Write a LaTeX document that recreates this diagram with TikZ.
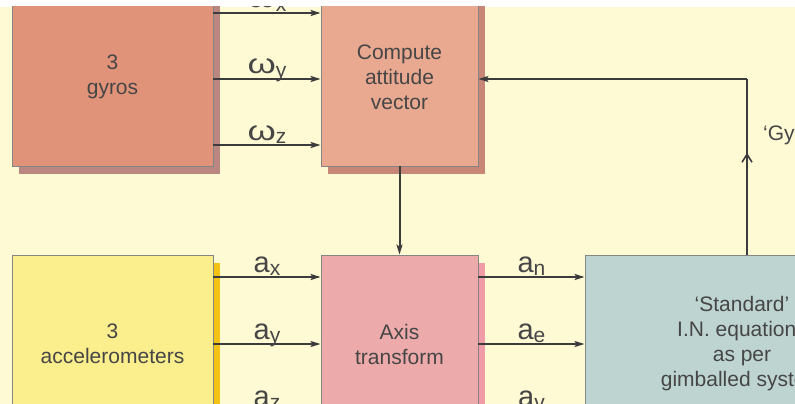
\documentclass[tikz,border=0pt]{standalone}
\usepackage{fontspec}
\setmainfont{Liberation Sans}
\usetikzlibrary{arrows.meta,positioning,shadows,calc,decorations.markings}
\definecolor{bgcream}{HTML}{FEFAD4}
\definecolor{txtgrey}{HTML}{464646}
\definecolor{lineline}{HTML}{3C3C3C}
\definecolor{boxline}{HTML}{858585}
\definecolor{gyrofill}{HTML}{E1937A}
\definecolor{gyroshade}{HTML}{B9877F}
\definecolor{compfill}{HTML}{E9A990}
\definecolor{compshade}{HTML}{C88676}
\definecolor{accfill}{HTML}{FAEE8D}
\definecolor{accshade}{HTML}{F4C215}
\definecolor{axisfill}{HTML}{EDAAAA}
\definecolor{axisshade}{HTML}{EF9CA6}
\definecolor{insfill}{HTML}{BDD4D1}
\newcommand{\sig}[2]{{\fontsize{29}{29}\selectfont #1\raisebox{-3.5pt}{\fontsize{21}{21}\selectfont #2}}}
\newcommand{\om}{\scalebox{1.25}[0.95]{ω}}

\begin{document}
\begin{tikzpicture}[
  x=1pt, y=-1pt,
  block/.style={draw=boxline, line width=0.8pt, text=txtgrey, align=center, inner sep=0pt,
    font=\fontsize{21}{25}\selectfont, minimum height=178pt},
  wide/.style={minimum width=201pt},
  narrow/.style={minimum width=157pt},
  shade/.style={drop shadow={shadow xshift=7pt, shadow yshift=-8pt, fill=#1, opacity=1}},
  flow/.style={draw=lineline, line width=2pt, -{Stealth[length=10pt,width=6pt,inset=2pt]}},
  lbl/.style={anchor=base, yshift=5pt, inner sep=0pt, text=txtgrey}
]
  \useasboundingbox (0,0) rectangle (795,404);
  \fill[white] (0,0) rectangle (795,404);
  \begin{scope}
  \clip (0,7) rectangle (795,404);
  \fill[bgcream] (0,7) rectangle (795,404);

  % Blocks
  \node[block, wide, fill=gyrofill, shade=gyroshade] (gyros) at (112.5,77) {3\\gyros};
  \node[block, narrow, fill=compfill, shade=compshade] (compute) at (399.5,77) {Compute\\attitude\\vector};
  \node[block, wide, fill=accfill, shade=accshade] (accel) at (112.5,344) {3\\accelerometers};
  \node[block, narrow, fill=axisfill, shade=axisshade] (axis) at (399.5,344) {Axis\\transform};
  \node[block, minimum width=314pt, fill=insfill] (ins) at (742,344)
    {`Standard'\\I.N. equations\\as per\\gimballed system};

  % Rates from gyros
  \draw[flow] (gyros.east |- 0,13) -- node[lbl] (wx) {\sig{\om}{x}} (compute.west |- 0,13);
  \draw[flow] (gyros.east |- 0,79) -- node[lbl] (wy) {\sig{\om}{y}} (compute.west |- 0,79);
  \draw[flow] (gyros.east |- 0,145) -- node[lbl] (wz) {\sig{\om}{z}} (compute.west |- 0,145);

  % Accelerations
  \draw[flow] (accel.east |- 0,277) -- node[lbl] (ax) {\sig{a}{x}} (axis.west |- 0,277);
  \draw[flow] (accel.east |- 0,344) -- node[lbl] (ay) {\sig{a}{y}} (axis.west |- 0,344);
  \draw[flow] (accel.east |- 0,411) -- node[lbl] (az) {\sig{a}{z}} (axis.west |- 0,411);
  \draw[flow] (axis.east |- 0,277) -- node[lbl] (an) {\sig{a}{n}} (ins.west |- 0,277);
  \draw[flow] (axis.east |- 0,344) -- node[lbl] (ae) {\sig{a}{e}} (ins.west |- 0,344);
  \draw[flow] (axis.east |- 0,411) -- node[lbl] (av) {\sig{a}{v}} (ins.west |- 0,411);

  \draw[flow] (compute) -- (axis);

  % Feedback
  \coordinate (fb) at (747,79);
  \draw[draw=lineline, line width=2pt, postaction={decorate}, decoration={markings,
      mark=at position 0.58 with {\arrow{Straight Barb[length=8pt,width=10pt,line width=1.6pt]}}}]
    (ins.north -| fb) -- (fb);
  \draw[flow] (fb) -- (compute.east |- fb);
  \node[anchor=base west, inner sep=0pt, text=txtgrey, font=\fontsize{21}{25}\selectfont] (gylbl) at (763,140) {`Gy};
  \end{scope}
\end{tikzpicture}
\end{document}
